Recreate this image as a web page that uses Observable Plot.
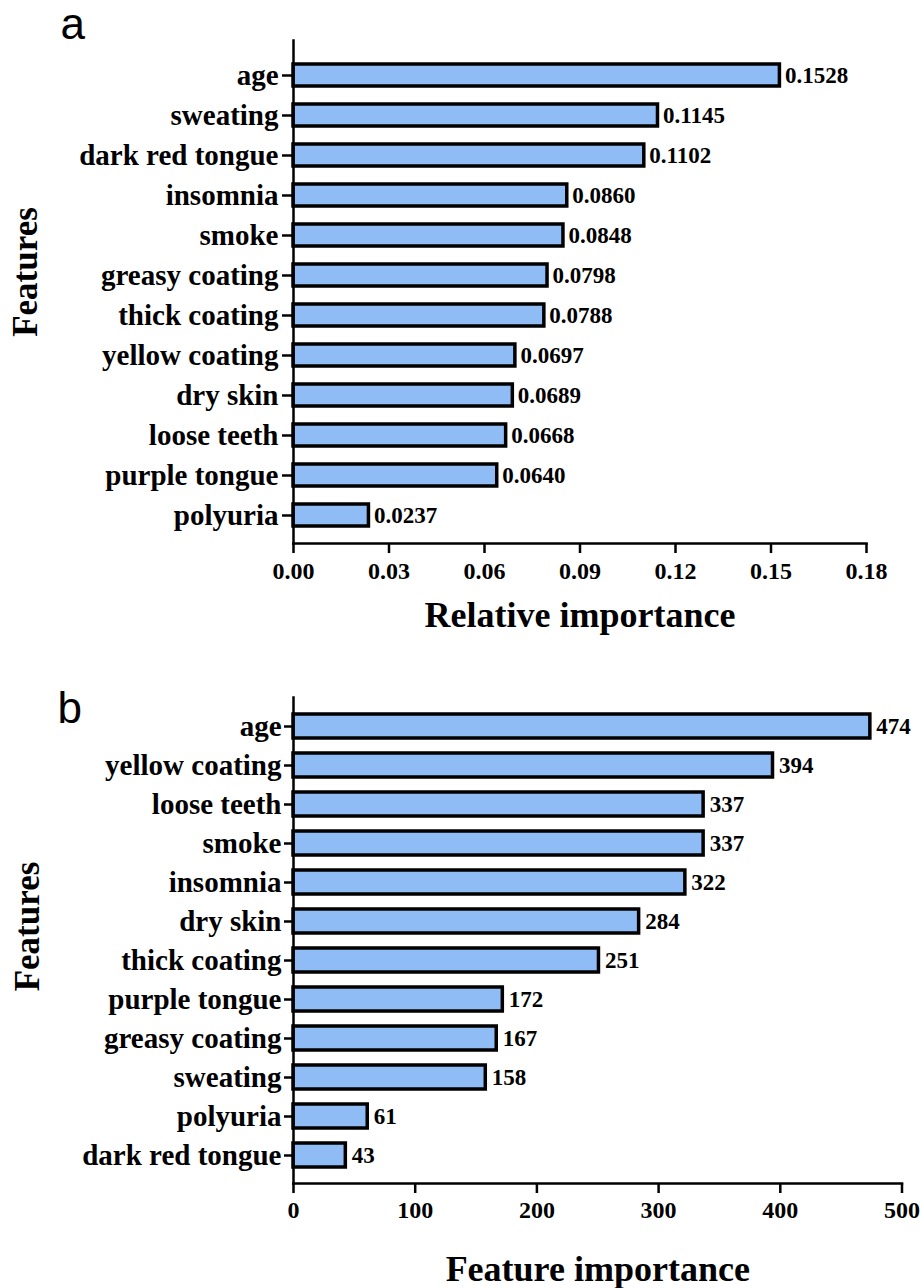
<!DOCTYPE html>
<html>
<head>
<meta charset="utf-8">
<script src="https://cdn.jsdelivr.net/npm/d3@7"></script>
<script src="https://cdn.jsdelivr.net/npm/@observablehq/plot@0.6"></script>
<style>
  html, body { margin: 0; padding: 0; background: #fff; }
  #chart { width: 921px; }
  #chart svg { display: block; }
</style>
</head>
<body>
<div id="chart"></div>
<script>
// Panel a: relative importance
const featuresA = ["age", "sweating", "dark red tongue", "insomnia", "smoke", "greasy coating",
  "thick coating", "yellow coating", "dry skin", "loose teeth", "purple tongue", "polyuria"];
const valuesA = [0.1528, 0.1145, 0.1102, 0.0860, 0.0848, 0.0798, 0.0788, 0.0697, 0.0689, 0.0668, 0.0640, 0.0237];
const ticksA = [0, 0.03, 0.06, 0.09, 0.12, 0.15, 0.18];

// Panel b: feature importance
const featuresB = ["age", "yellow coating", "loose teeth", "smoke", "insomnia", "dry skin",
  "thick coating", "purple tongue", "greasy coating", "sweating", "polyuria", "dark red tongue"];
const valuesB = [474, 394, 337, 337, 322, 284, 251, 172, 167, 158, 61, 43];
const ticksB = [0, 100, 200, 300, 400, 500];

const serif = "'Liberation Serif', 'Times New Roman', serif";
const sans = "'Liberation Sans', Arial, sans-serif";
const barFill = "#8fbcf5";

function panel({features, values, ticks, xDomain, fmtTick, fmtVal, title, letter, height,
                marginTop, marginBottom, marginRight, padIn, padOut, align,
                ytickSize, ytickPad, xtickPad, letterDx, letterDy, featDx, featDy, titleDy, valDx}) {
  const data = features.map((f, i) => ({feature: f, value: values[i]}));
  return Plot.plot({
    width: 921,
    height,
    marginLeft: 293,
    marginRight,
    marginTop,
    marginBottom,
    style: {fontFamily: serif, fontWeight: "bold", color: "#000", background: "#fff", overflow: "visible"},
    x: {domain: xDomain, ticks, label: null},
    y: {domain: features, paddingInner: padIn, paddingOuter: padOut, align, label: null},
    marks: [
      Plot.barX(data, {x: "value", y: "feature", fill: barFill, stroke: "#000", strokeWidth: 3.5}),
      Plot.text(data, {x: "value", y: "feature", text: d => fmtVal(d.value), textAnchor: "start",
        dx: valDx, fontSize: 23, fontFamily: serif, fontWeight: "bold", fill: "#000"}),
      Plot.axisY({tickSize: ytickSize, tickPadding: ytickPad, fontSize: 29, strokeWidth: 2.5, label: null}),
      Plot.axisX({ticks, tickFormat: fmtTick, tickSize: 10, tickPadding: xtickPad, fontSize: 24,
        strokeWidth: 2.5, label: null}),
      Plot.frame({anchor: "left", stroke: "#000", strokeWidth: 2.5}),
      Plot.frame({anchor: "bottom", stroke: "#000", strokeWidth: 2.5}),
      Plot.text([letter], {frameAnchor: "top-left", dx: letterDx, dy: letterDy, textAnchor: "start",
        lineAnchor: "middle", fontSize: 44, fontFamily: sans, fontWeight: "normal", fill: "#000"}),
      Plot.text(["Features"], {frameAnchor: "left", dx: featDx, dy: featDy, rotate: -90,
        textAnchor: "middle", lineAnchor: "middle",
        fontSize: 35, fontFamily: serif, fontWeight: "bold", fill: "#000"}),
      Plot.text([title], {frameAnchor: "bottom", dy: titleDy, textAnchor: "middle", lineAnchor: "middle",
        fontSize: 36, fontFamily: serif, fontWeight: "bold", fill: "#000"})
    ]
  });
}

const chartA = panel({
  features: featuresA, values: valuesA, ticks: ticksA, xDomain: [0, 0.18],
  fmtTick: d3.format(".2f"), fmtVal: d3.format(".4f"),
  title: "Relative importance", letter: "a", height: 650,
  marginTop: 40, marginBottom: 107, marginRight: 55,
  padIn: 0.445, padOut: 0.4, align: 0.58,
  ytickSize: 11, ytickPad: 4, xtickPad: 8,
  letterDx: -233, letterDy: -16, featDx: -268, featDy: -20, titleDy: 72, valDx: 5
});

const chartB = panel({
  features: featuresB, values: valuesB, ticks: ticksB, xDomain: [0, 500],
  fmtTick: d3.format("d"), fmtVal: d3.format("d"),
  title: "Feature importance", letter: "b", height: 638,
  marginTop: 47, marginBottom: 105, marginRight: 19.5,
  padIn: 0.38, padOut: 0.334, align: 0.52,
  ytickSize: 9, ytickPad: 3, xtickPad: 7,
  letterDx: -236, letterDy: 11, featDx: -266, featDy: -14, titleDy: 86, valDx: 6
});

document.getElementById("chart").append(chartA, chartB);
</script>
</body>
</html>
